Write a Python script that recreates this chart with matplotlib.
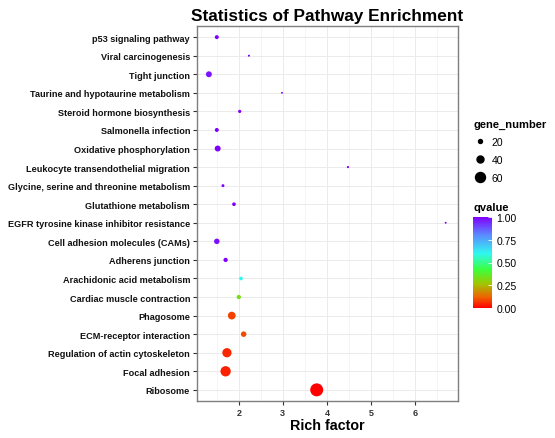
import numpy as np
import matplotlib
matplotlib.use("Agg")
import matplotlib.pyplot as plt
from matplotlib.lines import Line2D
from matplotlib.ticker import MultipleLocator
from matplotlib.colors import LinearSegmentedColormap

plt.rcParams['font.family'] = ['Liberation Sans', 'DejaVu Sans']

# pathways, top to bottom as in the chart
pathways = ['p53 signaling pathway', 'Viral carcinogenesis', 'Tight junction',
            'Taurine and hypotaurine metabolism', 'Steroid hormone biosynthesis',
            'Salmonella infection', 'Oxidative phosphorylation',
            'Leukocyte transendothelial migration',
            'Glycine, serine and threonine metabolism', 'Glutathione metabolism',
            'EGFR tyrosine kinase inhibitor resistance',
            'Cell adhesion molecules (CAMs)', 'Adherens junction',
            'Arachidonic acid metabolism', 'Cardiac muscle contraction',
            'Phagosome', 'ECM-receptor interaction',
            'Regulation of actin cytoskeleton', 'Focal adhesion', 'Ribosome']
rich_factor = [1.50, 2.23, 1.32, 2.98, 2.02, 1.50, 1.52, 4.48, 1.64, 1.89,
               6.70, 1.50, 1.70, 2.05, 2.00, 1.84, 2.11, 1.73, 1.70, 3.77]
gene_number = [20, 7, 33, 6, 15, 20, 33, 8, 13, 18,
               6, 30, 22, 18, 22, 45, 30, 55, 62, 80]
qvalue = [1.0, 1.0, 0.97, 1.0, 1.0, 1.0, 1.0, 1.0, 1.0, 1.0,
          1.0, 0.98, 1.0, 0.6, 0.33, 0.08, 0.09, 0.05, 0.04, 0.0]
legend_sizes = [20, 40, 60]
cbar_ticks = [0.0, 0.25, 0.5, 0.75, 1.0]

# red -> orange -> green -> cyan -> blue -> purple, like the reference bar
qcmap = LinearSegmentedColormap.from_list('q', [
    (0.0, '#ff0000'), (0.12, '#ee6400'), (0.27, '#9ec800'),
    (0.42, '#3cff3c'), (0.6, '#30f8f0'), (0.8, '#5a8cff'), (1.0, '#8000ff')])


def marker_area(n):
    # diameter in pixels grows linearly with gene count
    d_pt = (1.0 + 0.15 * np.asarray(n)) * 0.72
    return d_pt ** 2


fig = plt.figure(figsize=(5.55, 4.39), dpi=100)
ax = fig.add_axes([197 / 555, 1 - 402 / 439, 261 / 555, 375 / 439])

ypos = np.arange(len(pathways))[::-1]
sc = ax.scatter(rich_factor, ypos, s=marker_area(gene_number), c=qvalue,
                cmap=qcmap, vmin=0, vmax=1, linewidths=0, zorder=3)

ax.set_yticks(ypos)
ax.set_yticklabels(pathways, fontsize=6.6, fontweight='bold', color='#111111')
ax.set_ylim(-0.6, len(pathways) - 0.4)
ax.set_xlim(1.05, 6.98)
ax.xaxis.set_minor_locator(MultipleLocator(0.5))
ax.set_xticks([2, 3, 4, 5, 6])
ax.tick_params(axis='x', labelsize=6.5, colors='#333333', length=3, width=0.8,
               pad=2)
for lab in ax.get_xticklabels():
    lab.set_fontweight('bold')
ax.tick_params(axis='x', which='minor', length=0)
ax.tick_params(axis='y', length=3, width=0.8, color='#333333', pad=2)
ax.grid(which='major', color='#ebebeb', linewidth=0.7, zorder=0)
ax.grid(which='minor', axis='x', color='#f2f2f2', linewidth=0.5, zorder=0)
ax.set_axisbelow(True)
for sp in ax.spines.values():
    sp.set_color('#7f7f7f')
    sp.set_linewidth(1.0)

ax.set_xlabel('Rich factor', fontsize=10.3, fontweight='bold', labelpad=1)
ax.set_title('Statistics of Pathway Enrichment', fontsize=12.4,
             fontweight='bold', pad=4)

# size legend
handles = [Line2D([], [], linestyle='', marker='o', color='black',
                  markersize=np.sqrt(marker_area(v)), label=str(v))
           for v in legend_sizes]
leg = fig.legend(handles=handles, title='gene_number', loc='upper left',
                 bbox_to_anchor=(469 / 555, 1 - 116 / 439), frameon=False,
                 fontsize=7.5, title_fontsize=8, handletextpad=0.5,
                 labelspacing=0.75, borderaxespad=0, handlelength=1.3)
leg.get_title().set_fontweight('bold')
leg._legend_box.align = 'left'

# colour bar
cax = fig.add_axes([473 / 555, 1 - 309 / 439, 19 / 555, 91 / 439])
cb = fig.colorbar(sc, cax=cax, ticks=cbar_ticks)
cb.outline.set_visible(False)
cb.ax.set_yticklabels(['%.2f' % t for t in cbar_ticks])
cb.ax.tick_params(labelsize=7.5, length=3, color='white', width=0.6, pad=3,
                  direction='in')
cax.set_title('qvalue', fontsize=8, fontweight='bold', loc='left', pad=5)

fig.savefig('out.png', dpi=100)
